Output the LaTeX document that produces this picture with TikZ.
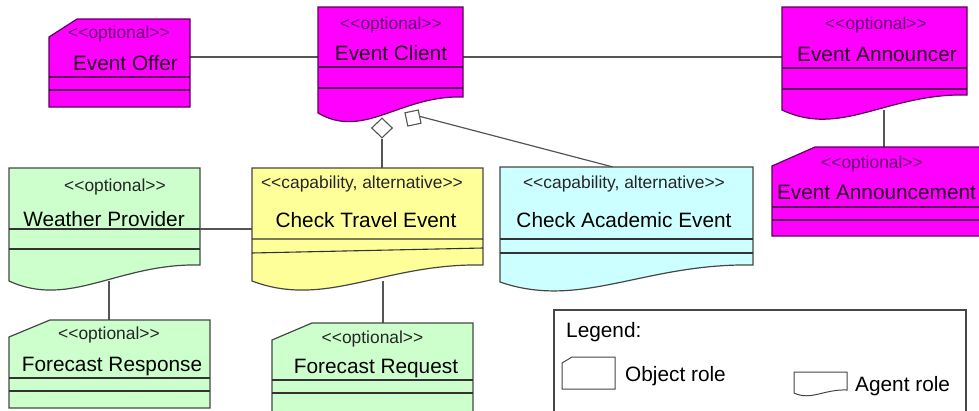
\documentclass[tikz,border=0pt]{standalone}
\usepackage{fontspec}
\newfontfamily\umlfont{Liberation Sans}
\usetikzlibrary{shapes.geometric}
\definecolor{mag}{RGB}{255,0,255}
\definecolor{magline}{RGB}{90,0,90}
\definecolor{magtext}{RGB}{40,0,40}
\definecolor{magstereo}{RGB}{100,0,110}
\definecolor{grn}{RGB}{204,255,204}
\definecolor{yel}{RGB}{255,255,153}
\definecolor{cyn}{RGB}{204,255,255}
\definecolor{edgecol}{RGB}{70,70,70}
\definecolor{conncol}{RGB}{85,85,85}
\begin{document}
\begin{tikzpicture}[x=1pt,y=-1pt,
  boxarea/.style={rectangle,draw=none,inner sep=0,outer sep=0},
  conn/.style={draw=conncol,line width=1.2pt},
  magbox/.style={fill=mag,draw=magline,line width=1.2pt},
  plainbox/.style={draw=edgecol,line width=1.2pt},
  magsep/.style={draw=magline,line width=1.1pt},
  sepline/.style={draw=black!80,line width=1.1pt},
  stereotext/.style={inner sep=0,anchor=base,font=\umlfont\fontsize{17.4}{20}\selectfont,text=black!85},
  nametext/.style={inner sep=0,anchor=base,font=\umlfont\fontsize{20.8}{24}\selectfont,text=black},
  magstereotext/.style={stereotext,text=magstereo},
  magnametext/.style={nametext,text=magtext},
  legtext/.style={inner sep=0,anchor=base west,font=\umlfont\fontsize{20.8}{24}\selectfont,text=black},
]
\useasboundingbox (0,0) rectangle (979,410);
\clip (0,0) rectangle (979,410);
\fill[white] (0,0) rectangle (979,410);

% invisible areas of the boxes
\node[boxarea,minimum width=141pt,minimum height=88pt] (offer) at (119.5,63) {};
\node[boxarea,minimum width=145pt,minimum height=106pt] (client) at (390.5,60) {};
\node[boxarea,minimum width=185pt,minimum height=103pt] (announcer) at (874.5,58.5) {};
\node[boxarea,minimum width=213pt,minimum height=89pt] (announcement) at (878.5,191.5) {};
\node[boxarea,minimum width=191pt,minimum height=113pt] (wp) at (104.5,224.5) {};
\node[boxarea,minimum width=201pt,minimum height=88pt] (fresp) at (109.5,364) {};
\node[boxarea,minimum width=231pt,minimum height=113pt] (ct) at (367.5,224.5) {};
\node[boxarea,minimum width=201pt,minimum height=97pt] (freq) at (372.5,371.5) {};
\node[boxarea,minimum width=253pt,minimum height=115pt] (cae) at (626.5,224.5) {};

% aggregation diamond and square
\node[diamond,draw=conncol,fill=white,line width=1.1pt,inner sep=0,minimum width=21pt,minimum height=20pt] (agg) at (382,128) {};
\node[rectangle,draw=conncol,fill=white,line width=1.1pt,inner sep=0,minimum size=13.5pt,rotate=12] (comp) at (413,118) {};

% connectors (drawn under the boxes)
\draw[conn] ([yshift=6pt]offer.east) -- ([yshift=3pt]client.west);
\draw[conn] ([yshift=3pt]client.east) -- ([yshift=1.5pt]announcer.west);
\draw[conn] ([xshift=9.5pt]announcer.south) -- ([xshift=9.5pt]announcer.south |- announcement.north);
\draw[conn] ([yshift=-4.5pt]wp.east) -- ([yshift=-4.5pt]ct.west);
\draw[conn] ([xshift=4.5pt]wp.south) -- ([xshift=4.5pt]wp.south |- fresp.north);
\draw[conn] ([xshift=15.5pt]ct.south) -- ([xshift=15.5pt]ct.south |- freq.north);
\draw[conn] (agg.south) -- (agg.south |- ct.north);
\draw[conn] (comp.east) -- ([xshift=-13.5pt]cae.north);

% Event Offer (object role)
\filldraw[magbox] (49,37) -- (77,19) -- (190,19) -- (190,107) -- (49,107) -- cycle;
\draw[magsep] (49,77) -- (190,77) (49,90) -- (190,90);
\node[magstereotext] (offer-st) at (119,38.5) {<<optional>>};
\node[magnametext] (offer-nm) at (125.5,70) {Event Offer};

% Event Client (agent role)
\filldraw[magbox] (318,7) -- (463,7) -- (463,97) .. controls (400,95) and (364,140) .. (318,113) -- cycle;
\draw[magsep] (318,67) -- (463,67) (318,88) -- (463,88);
\node[magstereotext] (client-st) at (391,29) {<<optional>>};
\node[magnametext] (client-nm) at (391,60) {Event Client};

% Event Announcer (agent role)
\filldraw[magbox] (782,7) -- (967,7) -- (967,95) .. controls (887,93) and (841,138) .. (782,110) -- cycle;
\draw[magsep] (782,68) -- (967,68) (782,89) -- (967,89);
\node[magstereotext] (announcer-st) at (876,29) {<<optional>>};
\node[magnametext] (announcer-nm) at (877,61.5) {Event Announcer};

% Event Announcement (object role)
\filldraw[magbox] (772,166) -- (815,147) -- (990,147) -- (990,236) -- (772,236) -- cycle;
\draw[magsep] (772,207) -- (990,207) (772,220) -- (990,220);
\node[magstereotext] (announcement-st) at (872,168) {<<optional>>};
\node[magnametext] (announcement-nm) at (876.5,199) {Event Announcement};

% Weather Provider (agent role)
\filldraw[plainbox,fill=grn] (9,168) -- (200,168) -- (200,265) .. controls (118,263) and (70,309) .. (9,281) -- cycle;
\draw[sepline] (9,229) -- (200,229) (9,249) -- (200,249);
\node[stereotext] (wp-st) at (115,191) {<<optional>>};
\node[nametext] (wp-nm) at (104,226) {Weather Provider};

% Forecast Response (object role)
\filldraw[plainbox,fill=grn] (9,337) -- (50,320) -- (210,320) -- (210,408) -- (9,408) -- cycle;
\draw[sepline] (9,378) -- (210,378) (9,391) -- (210,391);
\node[stereotext] (fresp-st) at (109,339) {<<optional>>};
\node[nametext] (fresp-nm) at (112,371) {Forecast Response};

% Check Travel Event (agent role)
\filldraw[plainbox,fill=yel] (252,168) -- (483,168) -- (483,265) .. controls (384,263) and (326,309) .. (252,281) -- cycle;
\draw[sepline] (252,239) -- (483,239) (252,253) -- (483,248);
\node[stereotext] (ct-st) at (362,188) {<<capability, alternative>>};
\node[nametext] (ct-nm) at (366,227) {Check Travel Event};

% Forecast Request (object role)
\filldraw[plainbox,fill=grn] (272,340) -- (312,323) -- (473,323) -- (473,420) -- (272,420) -- cycle;
\draw[sepline] (272,380) -- (473,380) (272,393) -- (473,393);
\node[stereotext] (freq-st) at (372.5,343) {<<optional>>};
\node[nametext] (freq-nm) at (376,373) {Forecast Request};

% Check Academic Event (agent role)
\filldraw[plainbox,fill=cyn] (500,167) -- (753,167) -- (753,265) .. controls (644,263) and (581,310) .. (500,282) -- cycle;
\draw[sepline] (500,239) -- (753,239) (500,253) -- (753,253);
\node[stereotext] (cae-st) at (624,188) {<<capability, alternative>>};
\node[nametext] (cae-nm) at (624,227) {Check Academic Event};

% Legend
\draw[draw=edgecol,line width=1.1pt] (554,420) -- (554,310) -- (966,310) -- (966,420);
\node[legtext] (leg-title) at (566,337) {Legend:};
\draw[draw=edgecol,line width=1pt] (562,363) -- (572,357) -- (615,357) -- (615,389) -- (562,389) -- cycle;
\node[legtext] (leg-obj) at (625,381) {Object role};
\draw[draw=edgecol,line width=1pt] (794,372) -- (847,372) -- (847,390) .. controls (824,389) and (811,401) .. (794,393) -- cycle;
\node[legtext] (leg-agent) at (855,391) {Agent role};
\end{tikzpicture}
\end{document}
